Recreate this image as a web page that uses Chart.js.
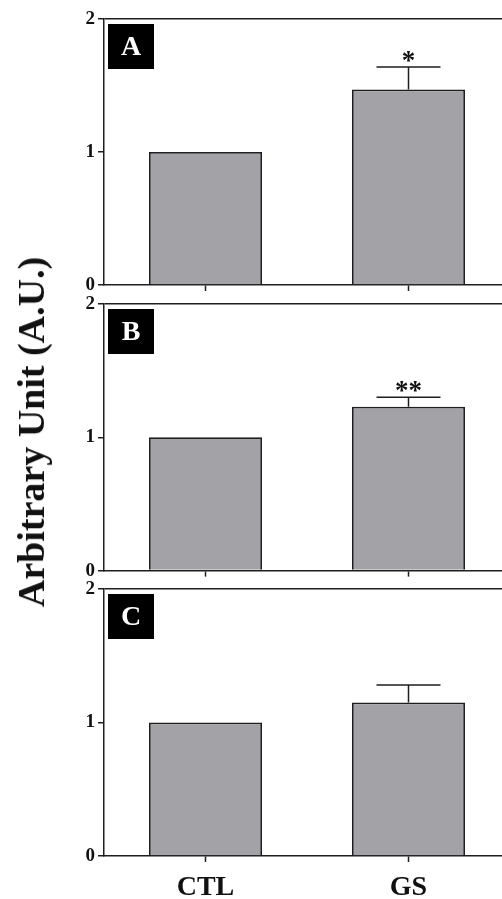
<!DOCTYPE html>
<html>
<head>
<meta charset="utf-8">
<script src="https://cdn.jsdelivr.net/npm/chart.js@4.4.0/dist/chart.umd.min.js"></script>
<style>
  body { margin: 0; width: 502px; height: 899px; overflow: hidden; background: #fff; position: relative; }
  canvas { position: absolute; left: 0; }
  #yTitle {
    position: absolute; left: 31px; top: 432px;
    transform: translate(-50%, -50%) rotate(-90deg);
    white-space: nowrap;
    font: bold 38px 'Liberation Serif', 'DejaVu Serif', serif;
    color: #111;
  }
</style>
</head>
<body>
<canvas id="panelA" width="515" height="300" style="top:0px"></canvas>
<canvas id="panelB" width="515" height="300" style="top:285px"></canvas>
<canvas id="panelC" width="515" height="329" style="top:570px"></canvas>
<div id="yTitle"></div>
<script>
const categories = ["CTL", "GS"];
const yTicks = [0, 1, 2];

const valuesA = [1.00, 1.47];
const errorsA = [0, 0.17];
const valuesB = [1.00, 1.23];
const errorsB = [0, 0.07];
const valuesC = [1.00, 1.15];
const errorsC = [0, 0.13];

const panelLetters = ["A", "B", "C"];
const significance = ["*", "**", ""];

const axisTitle = "Arbitrary Unit (A.U.)";

const SERIF = "'Liberation Serif', 'DejaVu Serif', serif";
const INK = "#1e1e1e";

document.getElementById("yTitle").textContent = axisTitle;

// error bars, stars and the black letter box
const decorations = {
  id: "decorations",
  afterDatasetsDraw(chart, args, opts) {
    const ctx = chart.ctx;
    const meta = chart.getDatasetMeta(0);
    const y = chart.scales.y;
    ctx.save();
    ctx.strokeStyle = INK;
    ctx.lineWidth = 1.5;
    opts.values.forEach((v, i) => {
      const e = opts.errors[i];
      if (!e) return;
      const x = meta.data[i].x;
      const yBar = y.getPixelForValue(v);
      const yTop = y.getPixelForValue(v + e);
      ctx.beginPath();
      ctx.moveTo(x, yBar);
      ctx.lineTo(x, yTop);
      ctx.moveTo(x - 32, yTop);
      ctx.lineTo(x + 32, yTop);
      ctx.stroke();
      if (opts.mark) {
        ctx.fillStyle = "#111";
        ctx.font = "bold 27px " + SERIF;
        ctx.textAlign = "center";
        ctx.textBaseline = "alphabetic";
        ctx.fillText(opts.mark, x, yTop + 2);
      }
    });
    const area = chart.chartArea;
    ctx.fillStyle = "#000";
    ctx.fillRect(area.left + 4, area.top + 5, 46, 45);
    ctx.fillStyle = "#fff";
    ctx.font = "bold 28px " + SERIF;
    ctx.textAlign = "center";
    ctx.textBaseline = "middle";
    ctx.fillText(opts.letter, area.left + 27, area.top + 29);
    ctx.restore();
  }
};

function makePanel(id, values, errors, idx, cfg) {
  new Chart(document.getElementById(id), {
    type: "bar",
    data: {
      labels: categories,
      datasets: [{
        data: values,
        backgroundColor: "#a3a3a7",
        borderColor: INK,
        borderWidth: 1.8,
        categoryPercentage: 1,
        barPercentage: 0.557
      }]
    },
    options: {
      responsive: false,
      animation: false,
      devicePixelRatio: 1,
      layout: { padding: { top: cfg.padTop, left: 0, right: 5, bottom: 0 } },
      plugins: {
        legend: { display: false },
        tooltip: { enabled: false },
        decorations: { values, errors, mark: significance[idx], letter: panelLetters[idx] }
      },
      scales: {
        x: {
          offset: true,
          grid: { offset: false, drawOnChartArea: false, drawTicks: true, tickLength: 6, tickColor: INK, tickWidth: 1.5 },
          border: { color: INK, width: 1.5 },
          ticks: {
            color: cfg.showLabels ? "#111" : "transparent",
            font: { family: SERIF, size: 28, weight: "bold" },
            padding: 9
          },
          afterFit(scale) { scale.height = cfg.xHeight; }
        },
        y: {
          min: 0,
          max: 2,
          afterBuildTicks(scale) { scale.ticks = yTicks.map(v => ({ value: v })); },
          grid: {
            color: ctx => ctx.tick && ctx.tick.value === 2 ? INK : "transparent",
            lineWidth: 1.5,
            tickColor: INK,
            tickLength: 6,
            tickWidth: 1.5
          },
          border: { color: INK, width: 1.5 },
          ticks: {
            color: "#111",
            font: { family: SERIF, size: 19, weight: "bold" },
            padding: 3
          },
          afterFit(scale) { scale.width = 104; }
        }
      }
    },
    plugins: [decorations]
  });
}

makePanel("panelA", valuesA, errorsA, 0, { padTop: 19, xHeight: 15, showLabels: false });
makePanel("panelB", valuesB, errorsB, 1, { padTop: 19, xHeight: 14, showLabels: false });
makePanel("panelC", valuesC, errorsC, 2, { padTop: 19, xHeight: 43, showLabels: true });
</script>
</body>
</html>
